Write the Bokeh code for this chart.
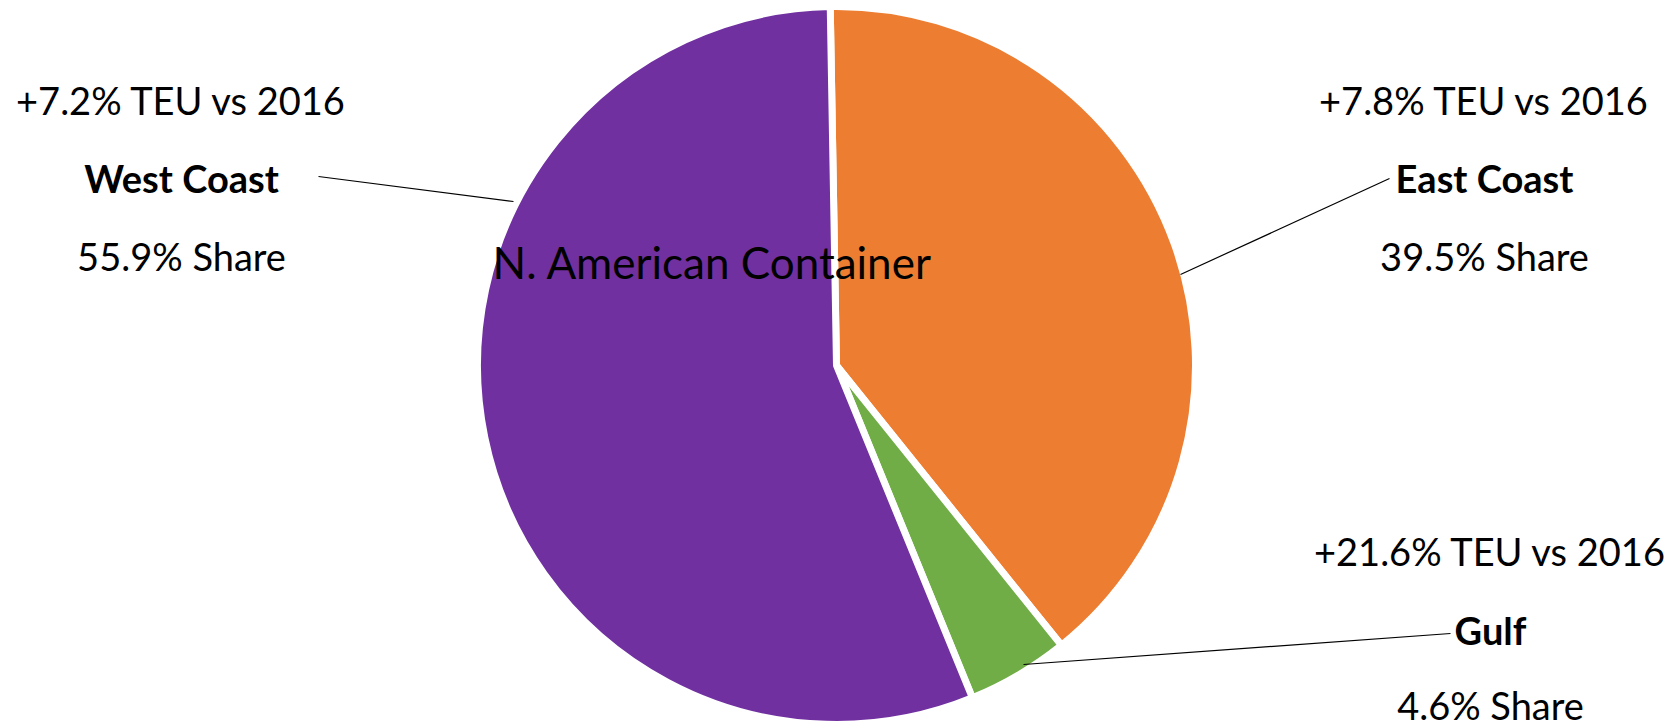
import math
from bokeh.plotting import figure
from bokeh.models import Range1d, ColumnDataSource
from bokeh.core.properties import value
from bokeh.embed import file_html
from bokeh.resources import INLINE

# ---- data ----
regions = ["East Coast", "Gulf", "West Coast"]
shares = [39.5, 4.6, 55.9]
growth = ["+7.8%", "+21.6%", "+7.2%"]
colors = ["#ED7D31", "#70AD47", "#7030A0"]
title_text = "N. American Container"

# ---- layout (pixels, measured from top-left) ----
W, H = 1680, 726
CX, CY, R = 836, 365, 359
START_DEG = 91.0  # degrees, counter-clockwise from +x; slices run clockwise
FONT = "Lato"
LABEL_SIZE = "38px"
TITLE_SIZE = "44px"

label_pos = {  # center x, vertical centers of the three lines
    "East Coast": (1484, [99, 177, 255]),
    "Gulf": (1490, [550, 629, 704]),
    "West Coast": (181, [99, 177, 255]),
}
title_pos = (712, 261)
leaders = {  # (label end) -> (pie end)
    "East Coast": ((1389, 178), (1180, 274)),
    "Gulf": ((1450, 633), (1023, 664)),
    "West Coast": ((318, 176), (513, 201)),
}


def fy(y):
    return H - y


p = figure(width=W, height=H, x_range=Range1d(0, W), y_range=Range1d(0, H),
           output_backend="svg", toolbar_location=None, min_border=0)
p.axis.visible = False
p.grid.visible = False
p.outline_line_color = None
p.background_fill_color = "white"
p.border_fill_color = "white"

# wedges
total = sum(shares)
starts, ends = [], []
a = math.radians(START_DEG)
for s in shares:
    da = 2 * math.pi * s / total
    starts.append(a)
    ends.append(a - da)
    a -= da

src = ColumnDataSource(dict(region=regions, share=shares, color=colors,
                            start=starts, end=ends))
p.wedge(x=CX, y=fy(CY), radius=R, start_angle="start", end_angle="end",
        direction="clock", fill_color="color", line_color="white",
        line_width=7, source=src)

# leader lines
for reg in regions:
    (x0, y0), (x1, y1) = leaders[reg]
    p.line([x0, x1], [fy(y0), fy(y1)], line_color="black", line_width=1.2)

# labels
for reg, sh, g in zip(regions, shares, growth):
    cx, ys = label_pos[reg]
    lines = [f"{g} TEU vs 2016", reg, f"{sh}% Share"]
    styles = ["normal", "bold", "normal"]
    for txt, yc, st in zip(lines, ys, styles):
        p.text(x=[cx], y=[fy(yc)], text=[txt], text_align="center",
               text_baseline="middle", text_font=value(FONT),
               text_font_size=LABEL_SIZE, text_font_style=st,
               text_color="black")

# title inside pie
p.text(x=[title_pos[0]], y=[fy(title_pos[1])], text=[title_text],
       text_align="center", text_baseline="middle", text_font=value(FONT),
       text_font_size=TITLE_SIZE, text_color="black")

open("out.html", "w").write(file_html(p, INLINE))
